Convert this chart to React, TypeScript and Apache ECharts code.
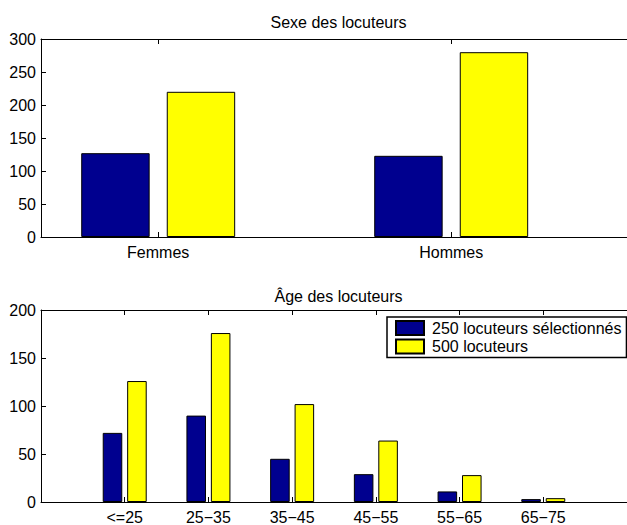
import React, { useEffect, useRef } from "react";
import * as echarts from "echarts";

const sexCategories = ["Femmes", "Hommes"];
const sexSelected = [127, 123];
const sexAll = [220, 280];

const ageCategories = ["<=25", "25\u221235", "35\u221245", "45\u221255", "55\u221265", "65\u221275"];
const ageSelected = [72, 90, 45, 29, 11, 3];
const ageAll = [126, 176, 102, 64, 28, 4];

const seriesNames = ["250 locuteurs sélectionnés", "500 locuteurs"];
const titles = ["Sexe des locuteurs", "\u00C2ge des locuteurs"];
const sexTicks = [0, 50, 100, 150, 200, 250, 300];
const ageTicks = [0, 50, 100, 150, 200];

const FONT = "'Liberation Sans', Arial, Helvetica, sans-serif";
const BLUE = "#00008F";
const YELLOW = "#FFFF00";

const GRID_LEFT = 41;
const GRID_WIDTH = 595;
const TOP_RANGE = [0.6, 2.6];
const BOT_RANGE = [0, 7];

export default function App() {
  const ref = useRef<HTMLDivElement>(null);
  useEffect(() => {
    if (!ref.current) return;
    const chart = echarts.init(ref.current, undefined, { renderer: "svg" });
    const topUnit = GRID_WIDTH / (TOP_RANGE[1] - TOP_RANGE[0]);
    const botUnit = GRID_WIDTH / (BOT_RANGE[1] - BOT_RANGE[0]);
    const label = { fontSize: 16, fontFamily: FONT, color: "#000" };
    const sexPos = sexCategories.map((_, i) => i + 1);
    const agePos = ageCategories.map((_, i) => i + 1);

    const xBase = (range: number[], grid: number, pos: number[], cats: string[]) => ({
      type: "value",
      gridIndex: grid,
      position: "bottom",
      min: range[0],
      max: range[1],
      axisLine: { show: true, onZero: false, lineStyle: { color: "#000", width: 1 } },
      axisTick: { show: true, inside: true, length: 5, customValues: pos, lineStyle: { color: "#000" } },
      axisLabel: {
        ...label,
        margin: 7,
        customValues: pos,
        formatter: (v: number) => cats[Math.round(v) - 1] ?? "",
      },
      splitLine: { show: false },
    });
    const xTop = (range: number[], grid: number, pos: number[]) => ({
      type: "value",
      gridIndex: grid,
      position: "top",
      min: range[0],
      max: range[1],
      axisLine: { show: true, onZero: false, lineStyle: { color: "#000", width: 1 } },
      axisTick: { show: true, inside: true, length: 5, customValues: pos, lineStyle: { color: "#000" } },
      axisLabel: { show: false },
      splitLine: { show: false },
    });
    const yAx = (grid: number, ticks: number[]) => ({
      type: "value",
      gridIndex: grid,
      min: ticks[0],
      max: ticks[ticks.length - 1],
      interval: ticks[1] - ticks[0],
      axisLine: { show: true, lineStyle: { color: "#000", width: 1 } },
      axisTick: { show: true, inside: true, length: 5, lineStyle: { color: "#000" } },
      axisLabel: { ...label, margin: 5 },
      splitLine: { show: false },
    });
    const bar = (name: string, color: string, xi: number, yi: number, pos: number[], vals: number[], w: number) => ({
      type: "bar",
      name,
      xAxisIndex: xi,
      yAxisIndex: yi,
      data: pos.map((p, i) => [p, vals[i]]),
      barWidth: w,
      barGap: "25%",
      itemStyle: { color, borderColor: "#000", borderWidth: 1 },
      emphasis: { disabled: true },
    });

    chart.setOption({
      animation: false,
      backgroundColor: "#fff",
      textStyle: { fontFamily: FONT },
      grid: [
        { left: GRID_LEFT, top: 39, width: GRID_WIDTH, height: 198, show: false },
        { left: GRID_LEFT, top: 310, width: GRID_WIDTH, height: 198, show: false },
      ],
      xAxis: [
        xBase(TOP_RANGE, 0, sexPos, sexCategories),
        xTop(TOP_RANGE, 0, sexPos),
        xBase(BOT_RANGE, 1, agePos, ageCategories),
        xTop(BOT_RANGE, 1, agePos),
      ],
      yAxis: [yAx(0, sexTicks), yAx(1, ageTicks)],
      legend: {
        data: seriesNames,
        orient: "vertical",
        left: 387,
        top: 317,
        padding: [3, 5, 3, 8],
        itemWidth: 28,
        itemHeight: 14,
        itemGap: 2.5,
        icon: "rect",
        borderColor: "#000",
        borderWidth: 1.5,
        backgroundColor: "#fff",
        selectedMode: false,
        textStyle: { ...label, padding: [0, 0, 0, 3] },
      },
      graphic: [
        {
          type: "text",
          x: GRID_LEFT + GRID_WIDTH / 2,
          y: 22,
          style: { text: titles[0], fontSize: 16, fontFamily: FONT, fill: "#000", align: "center", verticalAlign: "middle" },
        },
        {
          type: "text",
          x: GRID_LEFT + GRID_WIDTH / 2,
          y: 296,
          style: { text: titles[1], fontSize: 16, fontFamily: FONT, fill: "#000", align: "center", verticalAlign: "middle" },
        },
      ],
      series: [
        bar(seriesNames[0], BLUE, 0, 0, sexPos, sexSelected, 0.23 * topUnit),
        bar(seriesNames[1], YELLOW, 0, 0, sexPos, sexAll, 0.23 * topUnit),
        bar(seriesNames[0], BLUE, 2, 1, agePos, ageSelected, 0.23 * botUnit),
        bar(seriesNames[1], YELLOW, 2, 1, agePos, ageAll, 0.23 * botUnit),
      ],
    });
    return () => chart.dispose();
  }, []);
  return <div ref={ref} style={{ position: "fixed", left: 0, top: 0, width: 627, height: 525 }} />;
}
